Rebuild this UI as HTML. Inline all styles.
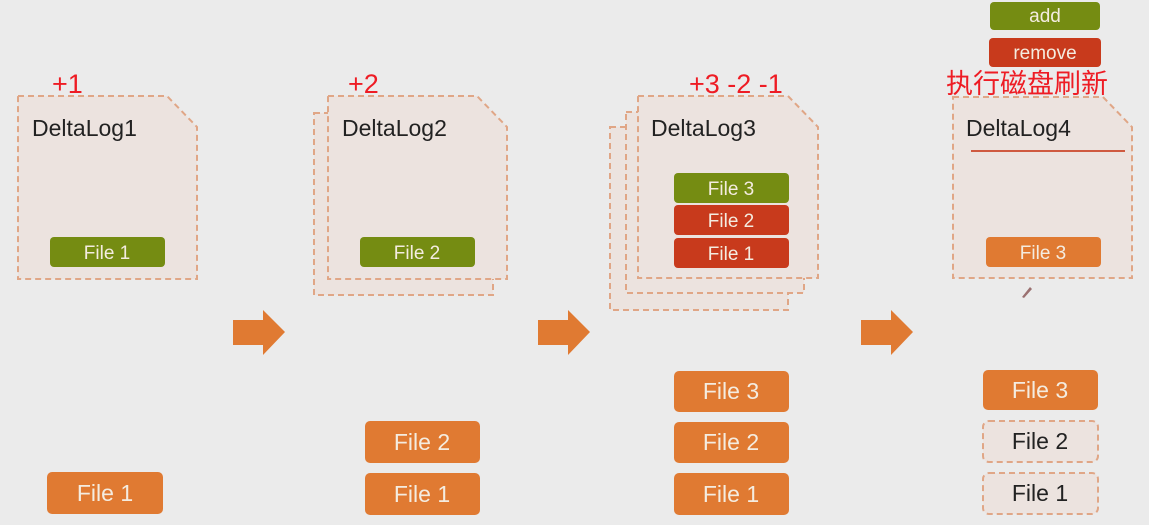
<!DOCTYPE html>
<html><head><meta charset="utf-8"><style>
html,body{margin:0;padding:0;background:#ebebeb;}
svg{display:block;}
text{font-family:"Liberation Sans","Noto Sans CJK SC",sans-serif;}
</style></head><body>
<svg width="1149" height="525" viewBox="0 0 1149 525" xmlns="http://www.w3.org/2000/svg">
<defs>
<style>
.doc{fill:#ece3df;stroke:#e0a686;stroke-width:2;stroke-dasharray:6 4;}
.t{font-size:23px;fill:#222;}
.b{font-size:19px;fill:#f4ece0;text-anchor:middle;}
.bb{font-size:23px;fill:#f4ece0;text-anchor:middle;}
.r{font-size:27px;fill:#ee1c24;}
</style>
</defs>
<rect width="1149" height="525" fill="#ebebeb"/>

<path class="doc" d="M18 96 H167 L197 127 V279 H18 Z"/>
<text class="t" x="32" y="136">DeltaLog1</text>
<rect x="50" y="237" width="115" height="30" rx="4" fill="#758c12"/>
<text class="b" x="107" y="259">File 1</text>
<text class="r" x="52" y="93">+1</text>

<path class="doc" d="M314 113 H493 V295 H314 Z"/>
<path class="doc" d="M328 96 H477 L507 127 V279 H328 Z"/>
<text class="t" x="342" y="136">DeltaLog2</text>
<rect x="360" y="237" width="115" height="30" rx="4" fill="#758c12"/>
<text class="b" x="417" y="259">File 2</text>
<text class="r" x="348" y="93">+2</text>

<path class="doc" d="M610 127 H788 V310 H610 Z"/>
<path class="doc" d="M626 112 H804 V293 H626 Z"/>
<path class="doc" d="M638 96 H788 L818 127 V278 H638 Z"/>
<text class="t" x="651" y="136">DeltaLog3</text>
<rect x="674" y="173" width="115" height="30" rx="4" fill="#758c12"/>
<text class="b" x="731" y="195">File 3</text>
<rect x="674" y="205" width="115" height="30" rx="4" fill="#c83a1c"/>
<text class="b" x="731" y="227">File 2</text>
<rect x="674" y="238" width="115" height="30" rx="4" fill="#c83a1c"/>
<text class="b" x="731" y="260">File 1</text>
<text class="r" x="689" y="93">+3 -2 -1</text>

<rect x="990" y="2" width="110" height="28" rx="4" fill="#758c12"/>
<text class="b" x="1045" y="22">add</text>
<rect x="989" y="38" width="112" height="29" rx="4" fill="#c83a1c"/>
<text class="b" x="1045" y="59">remove</text>
<text x="946" y="93" font-size="27" fill="#ee1c24">执行磁盘刷新</text>
<path class="doc" d="M953 97 H1103 L1132 127 V278 H953 Z"/>
<text class="t" x="966" y="136">DeltaLog4</text>
<line x1="971" y1="151" x2="1125" y2="151" stroke="#cf5a40" stroke-width="2"/>
<rect x="986" y="237" width="115" height="30" rx="4" fill="#e07a32"/>
<text class="b" x="1043" y="259">File 3</text>
<path d="M1022 297 L1030 287 L1032 289 L1024 298 Z" fill="#9a7070"/>

<path d="M233 320 H263 V310 L285 332 L263 355 V345 H233 Z" fill="#e07a32"/>
<path d="M538 320 H568 V310 L590 332 L568 355 V345 H538 Z" fill="#e07a32"/>
<path d="M861 320 H891 V310 L913 332 L891 355 V345 H861 Z" fill="#e07a32"/>

<rect x="47" y="472" width="116" height="42" rx="5" fill="#e07a32"/>
<text class="bb" x="105" y="501">File 1</text>

<rect x="365" y="421" width="115" height="42" rx="5" fill="#e07a32"/>
<text class="bb" x="422" y="450">File 2</text>
<rect x="365" y="473" width="115" height="42" rx="5" fill="#e07a32"/>
<text class="bb" x="422" y="502">File 1</text>

<rect x="674" y="371" width="115" height="41" rx="5" fill="#e07a32"/>
<text class="bb" x="731" y="399">File 3</text>
<rect x="674" y="422" width="115" height="41" rx="5" fill="#e07a32"/>
<text class="bb" x="731" y="450">File 2</text>
<rect x="674" y="473" width="115" height="42" rx="5" fill="#e07a32"/>
<text class="bb" x="731" y="502">File 1</text>

<rect x="983" y="370" width="115" height="40" rx="5" fill="#e07a32"/>
<text class="bb" x="1040" y="398">File 3</text>
<rect class="doc" x="983" y="421" width="115" height="41" rx="6"/>
<text x="1040" y="449" font-size="23" fill="#222" text-anchor="middle">File 2</text>
<rect class="doc" x="983" y="473" width="115" height="41" rx="6"/>
<text x="1040" y="501" font-size="23" fill="#222" text-anchor="middle">File 1</text>
</svg>
</body></html>
